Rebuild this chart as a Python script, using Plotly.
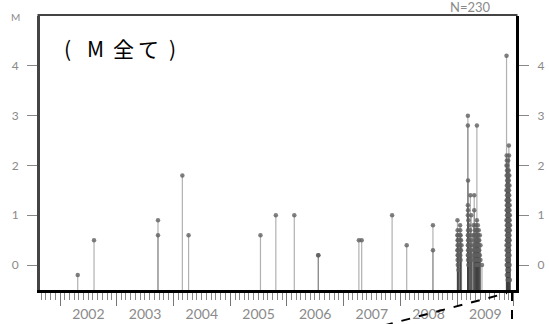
import plotly.graph_objects as go

# Event days and the magnitudes recorded on each day
event_days = [
    "2002-04-25", "2002-08-08", "2003-09-24", "2004-02-28", "2004-04-08",
    "2005-07-15", "2005-10-22", "2006-02-18", "2006-07-22", "2006-07-23",
    "2007-04-10", "2007-04-28", "2007-11-10", "2008-02-12", "2008-07-30",
    # January 2009 swarm
    "2009-01-04", "2009-01-05", "2009-01-06", "2009-01-08", "2009-01-10",
    "2009-01-21", "2009-01-22", "2009-01-24", "2009-01-27", "2009-01-30",
    # March - June 2009 swarm
    "2009-03-12", "2009-03-13", "2009-03-15", "2009-03-18", "2009-03-22",
    "2009-03-28", "2009-04-03", "2009-04-10", "2009-04-18", "2009-04-22",
    "2009-04-28", "2009-05-02", "2009-05-06", "2009-05-09", "2009-05-12",
    "2009-05-15", "2009-05-18", "2009-05-21", "2009-05-24", "2009-05-28",
    "2009-06-01", "2009-06-11",
    # November - December 2009 swarm
    "2009-11-16", "2009-11-17", "2009-11-18", "2009-11-19", "2009-11-20",
    "2009-11-21", "2009-11-22", "2009-11-23", "2009-11-24", "2009-11-25",
    "2009-11-26", "2009-11-27", "2009-11-28", "2009-11-29", "2009-11-30",
    "2009-12-01", "2009-12-02", "2009-12-03", "2009-12-04", "2009-12-05",
    "2009-12-06", "2009-12-07", "2009-12-08",
]

event_mags = [
    [-0.2], [0.5], [0.9, 0.6], [1.8], [0.6],
    [0.6], [1.0], [1.0], [0.2], [0.2],
    [0.5], [0.5], [1.0], [0.4], [0.8, 0.3],
    [0.9, 0.6, 0.3], [0.7, 0.5, 0.4, 0.2, 0.1], [0.6, 0.3, 0.0], [0.5, 0.2], [0.4, -0.1],
    [0.8, 0.6, 0.3], [0.7, 0.5, 0.4, 0.2], [0.6, 0.1], [0.5, 0.3], [0.4],
    [3.0, 2.8, 1.2, 1.0, 0.6, 0.4, 0.2], [1.7, 1.1, 0.7, 0.5, 0.3, 0.1],
    [0.9, 0.6, 0.4, 0.2, 0.0], [0.8, 0.5, 0.3], [0.6, 0.2],
    [1.4, 0.7, 0.4], [1.0, 0.5, 0.3, 0.1], [0.6, 0.2], [0.8, 0.4],
    [1.4, 1.1, 0.6, 0.3], [0.7, 0.5, 0.2], [0.8, 0.6, 0.4, 0.1],
    [0.7, 0.5, 0.3, 0.2, 0.0], [2.8, 0.9, 0.6, 0.4], [0.7, 0.5, 0.3, 0.1],
    [0.8, 0.6, 0.4, 0.2], [0.6, 0.5, 0.3, 0.0], [0.7, 0.4, 0.2],
    [0.5, 0.3, 0.1], [0.6, 0.2], [0.4, 0.1], [0.0],
    [4.2, 2.0, 1.5, 0.9, 0.4], [2.2, 1.8, 1.3, 1.1, 0.7, 0.3, 0.0],
    [2.1, 1.6, 1.2, 0.8, 0.5, 0.1, -0.2], [1.9, 1.4, 1.0, 0.6, 0.2],
    [1.7, 1.3, 0.9, 0.5, 0.0], [2.0, 1.5, 1.1, 0.7, 0.4, -0.1],
    [1.8, 1.2, 0.8, 0.3], [1.6, 1.0, 0.6, 0.2, -0.3], [1.9, 1.4, 0.9, 0.5, 0.1],
    [1.7, 1.1, 0.7, 0.4, 0.0], [1.5, 1.2, 0.8, 0.3, -0.1], [2.1, 1.3, 0.9, 0.6, 0.2],
    [1.8, 1.0, 0.5, 0.1], [1.6, 1.4, 0.7, 0.4, -0.2], [1.9, 1.1, 0.8, 0.3, 0.0],
    [2.4, 1.7, 1.2, 0.6, 0.2], [2.2, 1.5, 0.9, 0.5, 0.1], [1.4, 1.0, 0.7, 0.3, -0.1],
    [1.8, 1.3, 0.8, 0.4], [1.6, 1.1, 0.6, 0.2], [1.2, 0.9, 0.5, 0.0],
    [1.0, 0.7], [0.8, -0.3],
]

y_ticks = [0, 1, 2, 3, 4]
y_min, y_max = -0.5, 5.0
x_start, x_end = "2001-08-25", "2010-01-16"
panel_title = "(M全て)"

# flatten to one row per event
times, mags = [], []
for day, ms in zip(event_days, event_mags):
    for m in ms:
        times.append(day)
        mags.append(m)

# stems from the bottom of the frame up to each magnitude
stem_x, stem_y = [], []
for t, m in zip(times, mags):
    stem_x += [t, t, None]
    stem_y += [y_min, m, None]

W, H = 549, 324
ML, MR, MT, MB = 40, 33, 16, 34
PW, PH = W - ML - MR, H - MT - MB


def px(x):
    return (x - ML) / PW


def py(y):
    return (H - MB - y) / PH


tick_font = dict(family="Lato, DejaVu Sans, sans-serif", color="#8a8a8a")

fig = go.Figure()
fig.add_trace(go.Scatter(
    x=stem_x, y=stem_y, mode="lines",
    line=dict(color="rgba(70,70,70,0.42)", width=1.2),
    hoverinfo="skip", showlegend=False,
))
fig.add_trace(go.Scatter(
    x=times, y=mags, mode="markers",
    marker=dict(size=4.5, color="rgba(95,95,95,0.8)", line=dict(width=0)),
    showlegend=False,
))
# empty trace carrying the right-hand magnitude axis
fig.add_trace(go.Scatter(x=[times[0]], y=[None], yaxis="y2",
                         mode="markers", showlegend=False, hoverinfo="skip"))

yaxis_common = dict(
    range=[y_min, y_max], tickvals=y_ticks, ticks="outside", ticklen=10,
    tickwidth=1, tickcolor="#888", showgrid=False, zeroline=False,
    tickfont=dict(size=12, **tick_font), ticklabelstandoff=6,
    automargin=False,
)

# title glyphs set one by one with wide spacing
title_x = [67, 95, 123, 148, 172]
title_ann = [
    dict(text=ch, xref="paper", yref="paper", x=px(xc), y=py(48),
         xanchor="center", yanchor="middle", showarrow=False,
         font=dict(family="Noto Sans CJK JP", size=21, color="black"))
    for ch, xc in zip(panel_title, title_x)
]

fig.update_layout(
    template="none",
    width=W, height=H,
    margin=dict(l=ML, r=MR, t=MT, b=MB),
    paper_bgcolor="white", plot_bgcolor="white",
    xaxis=dict(
        type="date", range=[x_start, x_end],
        tick0="2000-01-01", dtick="M12", tickformat="%Y",
        ticklabelmode="period", ticks="outside", ticklen=13,
        tickwidth=1, tickcolor="#777", ticklabelstandoff=-4,
        minor=dict(dtick="M1", ticks="outside", ticklen=7,
                   tickwidth=1, tickcolor="#888"),
        showline=True, linecolor="black", linewidth=3,
        showgrid=False, zeroline=False, automargin=False,
        tickfont=dict(size=14, **tick_font),
    ),
    yaxis=dict(showline=True, linecolor="#444", linewidth=3, **yaxis_common),
    yaxis2=dict(overlaying="y", side="right", matches="y",
                showline=True, linecolor="black", linewidth=3, **yaxis_common),
    shapes=[
        dict(type="line", xref="paper", yref="paper", x0=px(37.5), x1=px(517.5),
             y0=py(15), y1=py(15), line=dict(color="#444", width=2)),
        dict(type="line", xref="paper", yref="paper", x0=px(384), y0=py(325.5),
             x1=px(507), y1=py(293), line=dict(color="black", width=2, dash="dash")),
        dict(type="line", xref="paper", yref="paper", x0=px(512), y0=py(292),
             x1=px(512), y1=py(326), line=dict(color="black", width=2, dash="dash")),
    ],
    annotations=[
        dict(text="M", xref="paper", yref="paper", x=px(15), y=py(17),
             xanchor="center", yanchor="middle",
             showarrow=False, font=dict(size=10, **tick_font)),
        dict(text=f"N={len(mags)}", xref="paper", yref="paper", x=px(470), y=py(7),
             xanchor="center", yanchor="middle",
             showarrow=False, font=dict(size=13, **tick_font)),
    ] + title_ann,
)

fig.write_html("out.html")
